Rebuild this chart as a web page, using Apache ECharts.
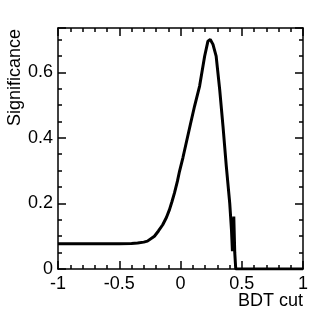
<!DOCTYPE html>
<html>
<head>
<meta charset="utf-8">
<script src="https://cdn.jsdelivr.net/npm/echarts@6/dist/echarts.min.js"></script>
<style>
  html, body { margin: 0; padding: 0; background: #fff; }
  #chart { width: 332px; height: 332px; }
</style>
</head>
<body>
<div id="chart"></div>
<script>
// BDT cut values and the significance
const bdtCut = [-1, -0.8, -0.6, -0.5, -0.4, -0.35, -0.3, -0.27, -0.254, -0.213, -0.18, -0.145, -0.115, -0.09, -0.07, -0.049, -0.025, -0.008,
  0.02, 0.047, 0.08, 0.115, 0.156, 0.197, 0.224, 0.243, 0.265, 0.291, 0.32, 0.347, 0.374, 0.402, 0.416, 0.424,
  0.435, 0.443, 0.451, 0.5, 0.6, 0.7, 0.8, 0.9, 1];
const significance = [0.077, 0.077, 0.077, 0.077, 0.078, 0.079, 0.082, 0.085, 0.089, 0.10, 0.116, 0.135, 0.157, 0.181, 0.205, 0.232, 0.268, 0.298,
  0.34, 0.385, 0.44, 0.497, 0.558, 0.649, 0.695, 0.70, 0.685, 0.649, 0.547, 0.435, 0.313, 0.20, 0.12, 0.054,
  0.16, 0.049, 0, 0, 0, 0, 0, 0, 0];

const xMin = -1, xMax = 1, xStep = 0.5;
const yMin = 0, yMax = 0.735, yStep = 0.2, yMinorStep = 0.05;
const xTitle = 'BDT cut';
const yTitle = 'Significance';

const font = 'Liberation Sans, Arial, Helvetica, sans-serif';
const frame = { show: true, onZero: false, lineStyle: { color: '#000', width: 1.5 } };

const chart = echarts.init(document.getElementById('chart'));

const majorY = (pos, labels) => ({
  type: 'value', position: pos, min: yMin, max: yMax, interval: yStep,
  axisLine: frame,
  axisTick: { show: true, inside: true, length: 8, lineStyle: { color: '#000', width: 1.5 } },
  axisLabel: {
    show: labels, margin: 5, color: '#000', fontSize: 18, fontFamily: font,
    formatter: v => Math.abs(v / yStep - Math.round(v / yStep)) < 1e-6 ? String(+v.toFixed(1)) : ''
  },
  splitLine: { show: false }
});
const minorY = pos => ({
  type: 'value', position: pos, min: yMin, max: yMax, interval: yMinorStep,
  axisLine: { show: false, onZero: false },
  axisTick: { show: true, inside: true, length: 4, lineStyle: { color: '#000', width: 1.5 } },
  axisLabel: { show: false },
  splitLine: { show: false }
});
const xAx = (pos, labels) => ({
  type: 'value', position: pos, min: xMin, max: xMax, interval: xStep,
  axisLine: frame,
  axisTick: { show: true, inside: true, length: 8, lineStyle: { color: '#000', width: 1.5 } },
  minorTick: { show: true, splitNumber: 5, length: 4, lineStyle: { color: '#000', width: 1.5 } },
  axisLabel: { show: labels, margin: 6, color: '#000', fontSize: 18, fontFamily: font },
  splitLine: { show: false }
});

chart.setOption({
  backgroundColor: '#fff',
  animation: false,
  grid: { left: 58, right: 29, top: 28, bottom: 63 },
  xAxis: [xAx('bottom', true), xAx('top', false)],
  yAxis: [majorY('left', true), minorY('left'), majorY('right', false), minorY('right')],
  graphic: [
    {
      type: 'text', x: 15, y: 29, rotation: Math.PI / 2,
      style: { text: yTitle, fill: '#000', font: '18px ' + font, textAlign: 'right', textVerticalAlign: 'middle' }
    },
    {
      type: 'text', x: 303, y: 301,
      style: { text: xTitle, fill: '#000', font: '18px ' + font, textAlign: 'right', textVerticalAlign: 'middle' }
    }
  ],
  series: [{
    type: 'line',
    data: bdtCut.map((x, i) => [x, significance[i]]),
    showSymbol: false,
    lineStyle: { color: '#000', width: 3 },
    clip: true
  }]
});
</script>
</body>
</html>
